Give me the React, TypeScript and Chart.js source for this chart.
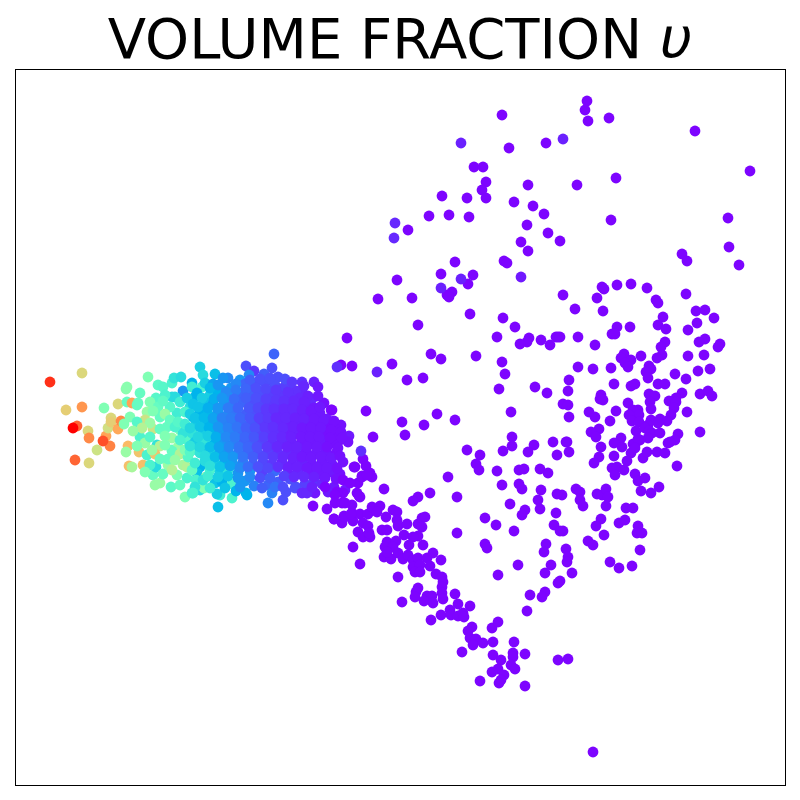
import React, { useEffect, useRef } from "react";
import { Chart, registerables } from "chart.js";

Chart.register(...registerables);

const titleMain = "VOLUME FRACTION ";
const titleSymbol = "υ";

// [x, y], volume fraction close to zero
const upperCloud: number[][] = [
[502,115],[587,101],[585,110],[588,121],[609,118],[695,131],[509,148],[546,143],[474,167],[483,167],[750,171],[616,178],[486,182],[482,190],[528,185],[577,185],[442,196],[467,198],[486,198],[514,202],[533,206],[544,214],[429,216],[449,215],[469,217],[611,220],[728,218],[408,230],[527,225],[548,233],[560,241],[521,242],[528,251],[729,247],[682,254],[687,261],[739,265],[455,262],[504,261],[507,263],[441,274],[473,275],[397,280],[468,284],[452,292],[447,295],[449,297],[378,299],[412,298],[563,295],[575,309],[470,314],[503,318],[515,327],[418,325],[347,338],[497,337],[529,338],[527,342],[520,344],[541,340],[550,345],[556,337],[558,337],[431,354],[441,359],[476,356],[502,362],[505,374],[341,365],[352,366],[392,364],[407,380],[423,378],[499,389],[535,387],[547,393],[511,412],[366,411],[332,410],[402,422],[437,414],[455,420],[424,425],[405,435],[373,437],[512,437],[512,446],[534,445],[528,452],[503,451],[553,442],[557,455],[566,442],[467,450],[480,455],[476,464],[479,470],[497,471],[519,470],[524,469],[540,469],[548,473],[448,477],[502,485],[519,484],[522,489],[541,490],[430,493],[457,497],[510,504],[538,500],[540,509],[525,510],[522,515],[556,513],[485,518],[496,525],[514,531],[554,525],[457,533],[485,544],[487,548],[546,544],[544,552],[518,565],[498,575],[530,595],[527,611],[558,583],[545,592],[542,597],[551,565],[545,573],
];

const rightCloud: number[][] = [
[602,287],[604,289],[597,298],[603,311],[617,285],[631,284],[647,288],[656,300],[658,303],[686,294],[696,311],[705,310],[714,318],[697,323],[688,330],[663,317],[658,325],[666,329],[617,327],[612,334],[615,334],[630,327],[578,337],[560,337],[595,345],[665,342],[661,347],[705,339],[699,342],[720,344],[718,347],[624,354],[621,358],[631,360],[641,356],[662,355],[657,358],[688,356],[704,355],[625,363],[628,367],[578,367],[593,369],[611,368],[649,366],[651,369],[646,372],[648,378],[675,374],[698,371],[710,369],[686,379],[569,380],[614,384],[631,386],[635,384],[658,384],[665,384],[568,391],[601,395],[600,399],[603,400],[649,394],[655,396],[682,393],[700,394],[708,391],[712,396],[676,398],[669,401],[676,402],[628,403],[650,402],[563,404],[568,405],[651,409],[674,408],[638,410],[633,410],[589,412],[595,417],[616,411],[687,412],[569,417],[639,415],[629,415],[671,415],[610,421],[632,421],[639,422],[651,420],[660,419],[667,421],[658,423],[648,425],[599,429],[591,432],[596,437],[636,431],[645,428],[649,431],[652,433],[660,433],[700,432],[678,434],[675,440],[668,443],[670,442],[648,438],[640,440],[621,438],[614,443],[635,445],[567,442],[601,447],[622,447],[569,452],[599,457],[594,463],[614,456],[633,444],[638,439],[631,453],[635,448],[627,461],[643,458],[647,452],[657,452],[665,453],[677,466],[612,468],[617,467],[615,475],[624,470],[635,474],[638,481],[645,478],[641,491],[651,493],[659,487],[576,489],[580,492],[562,495],[580,500],[583,506],[597,494],[602,495],[606,489],[608,497],[606,506],[626,508],[633,508],[601,519],[596,526],[619,523],[625,520],[638,526],[637,533],[642,533],[604,535],[563,531],[588,541],[593,545],[566,549],[640,550],[568,557],[567,562],[610,562],[619,568],[632,566],[572,573],[560,581],[557,494],[560,531],
];

const lowerArm: number[][] = [
[313,506],[327,509],[334,519],[342,523],[344,516],[352,513],[353,521],[360,514],[368,514],[372,507],[380,506],[377,512],[386,517],[393,510],[397,512],[397,520],[398,526],[407,524],[418,524],[422,518],[425,517],[422,527],[363,523],[368,526],[358,532],[363,537],[370,537],[369,533],[382,530],[387,530],[404,535],[418,536],[413,537],[353,547],[360,564],[387,542],[396,541],[385,547],[393,547],[409,545],[423,545],[384,557],[391,559],[387,552],[398,553],[403,559],[408,555],[413,560],[418,558],[433,553],[427,558],[441,560],[413,567],[420,565],[430,566],[415,572],[420,572],[398,577],[436,574],[442,577],[443,582],[442,587],[442,593],[443,599],[455,594],[418,588],[416,592],[415,597],[427,596],[432,596],[424,601],[433,603],[402,602],[431,620],[441,615],[450,610],[451,615],[458,604],[470,606],[458,616],[463,613],[464,617],[472,627],[468,631],[470,638],[476,639],[473,645],[483,643],[462,652],[493,642],[492,628],[498,622],[514,642],[493,655],[501,660],[513,653],[513,657],[525,654],[511,665],[515,669],[498,669],[492,672],[504,675],[501,680],[499,683],[480,681],[525,686],[558,660],[568,659],[593,752],[384,489],[418,497],[413,501],[355,467],[363,459],[366,466],[354,467],[370,473],[372,477],[362,476],[343,480],[358,483],[350,483],[357,493],[360,497],[343,493],[335,503],[352,505],[342,503],[334,519],[345,517],[351,514],[325,487],[337,492],[335,495],[345,503],[359,496],[362,477],[367,475],
];

// [x, y, volume fraction]
const bluerPoints: number[][] = [
[461,143,0.04],[563,139,0.04],[395,223,0.05],[394,238,0.05],[461,279,0.04],[441,288,0.04],[521,277,0.03],[337,367,0.06],[377,372,0.04],[361,451,0.06],
];

const tail: number[][] = [
[50,382,0.94],[82,373,0.68],[66,410,0.7],[82,407,0.8],[77,426,0.87],[73,428,1],[88,431,0.68],[89,438,0.82],[75,460,0.87],[89,463,0.68],[97,450,0.65],[106,436,0.78],[110,446,0.83],[104,408,0.5],[111,418,0.68],[108,428,0.66],[111,422,0.7],[103,441,0.9],[118,429,0.77],[121,421,0.82],[124,424,0.5],[118,404,0.68],[127,387,0.52],[126,389,0.52],[148,377,0.5],[127,402,0.45],[132,403,0.78],[137,405,0.45],[140,393,0.45],[128,446,0.74],[126,452,0.55],[139,452,0.72],[129,466,0.73],[132,467,0.58],[143,465,0.73],[153,475,0.45],[155,485,0.55],[160,483,0.55],[171,487,0.43],[185,497,0.5],[192,493,0.4],[200,490,0.33],[204,488,0.5],
];

const leftBlob: number[][] = [
[158,385,0.43],[163,387,0.42],[172,383,0.4],[174,378,0.35],[181,377,0.33],[200,367,0.3],[203,375,0.33],[183,391,0.2],[192,383,0.25],[192,387,0.38],[202,387,0.4],[195,397,0.25],[172,397,0.33],[175,397,0.33],[156,398,0.42],[150,402,0.5],[138,403,0.45],[158,407,0.45],[147,412,0.55],[145,420,0.65],[130,417,0.5],[137,422,0.42],[160,417,0.45],[153,429,0.65],[160,429,0.45],[140,437,0.4],[145,443,0.55],[157,445,0.35],[160,446,0.6],[172,450,0.45],[178,447,0.55],[187,440,0.42],[180,430,0.5],[167,427,0.45],[177,413,0.38],[193,417,0.25],[190,407,0.33],[202,410,0.33],[207,425,0.2],[202,436,0.42],[192,445,0.32],[183,433,0.35],[172,438,0.55],[147,455,0.4],[155,454,0.72],[156,467,0.33],[168,465,0.55],[183,465,0.58],[187,467,0.6],[177,475,0.5],[187,478,0.4],[168,459,0.45],[172,451,0.45],[180,454,0.6],[188,457,0.42],[200,467,0.25],[197,473,0.27],[206,477,0.55],[196,480,0.4],[207,457,0.35],[197,450,0.3],[208,447,0.2],
[165,395,0.4],[180,402,0.38],[170,407,0.42],[153,411,0.5],[165,414,0.55],[185,412,0.4],[150,423,0.55],[170,420,0.45],[142,428,0.6],[133,431,0.55],[137,446,0.5],[150,437,0.42],[165,436,0.5],[175,427,0.4],[180,440,0.4],[165,445,0.5],[152,450,0.55],[160,459,0.45],[175,460,0.55],[163,474,0.45],[172,470,0.6],[192,470,0.45],[180,485,0.45],[195,487,0.35],[150,465,0.4],[145,472,0.5],[187,398,0.3],[163,401,0.44],[185,450,0.5],[178,422,0.42],
];

const midBlob: number[][] = [
[215,374,0.27],[228,378,0.18],[223,378,0.2],[246,366,0.1],[254,371,0.07],[249,375,0.18],[240,380,0.2],[272,368,0.1],[274,354,0.13],[264,374,0.12],[278,377,0.1],[288,385,0.1],[302,382,0.06],[314,382,0.04],[318,387,0.03],[302,390,0.05],[312,399,0.05],[324,403,0.02],[331,410,0.02],[316,418,0.03],[327,419,0.03],[341,425,0.02],[349,436,0.03],[348,442,0.02],[343,462,0.02],[338,442,0.02],[323,435,0.03],
[205,383,0.3],[213,384,0.22],[222,390,0.22],[231,388,0.2],[245,384,0.13],[255,385,0.1],[265,383,0.1],[275,385,0.1],[283,388,0.08],[296,391,0.06],
[197,393,0.25],[210,395,0.3],[218,393,0.25],[228,396,0.2],[240,394,0.13],[250,393,0.12],[260,392,0.1],[270,394,0.08],[280,396,0.07],[290,397,0.06],[300,398,0.05],[308,396,0.04],
[193,404,0.28],[204,402,0.28],[213,404,0.22],[224,403,0.2],[233,405,0.16],[243,402,0.13],[253,404,0.1],[262,402,0.09],[270,405,0.07],[278,403,0.06],[288,406,0.05],[297,404,0.05],[306,406,0.04],[314,408,0.03],
[190,414,0.3],[200,412,0.25],[208,414,0.26],[218,412,0.2],[228,414,0.18],[236,412,0.15],[246,414,0.12],[254,412,0.1],[264,414,0.07],[272,412,0.06],[282,414,0.05],[290,413,0.05],[300,415,0.04],[310,414,0.03],[320,413,0.03],
[185,424,0.38],[196,422,0.3],[205,424,0.25],[214,422,0.22],[224,424,0.17],[232,422,0.16],[242,424,0.13],[252,422,0.11],[262,424,0.07],[270,422,0.06],[280,424,0.05],[290,422,0.04],[298,424,0.04],[306,423,0.03],[316,425,0.03],[328,426,0.02],[335,428,0.02],
[192,433,0.35],[203,431,0.3],[212,433,0.25],[220,431,0.2],[230,433,0.17],[240,431,0.14],[248,433,0.12],[258,431,0.09],[268,433,0.07],[276,431,0.06],[286,433,0.04],[296,431,0.04],[306,433,0.03],[316,431,0.03],[326,433,0.02],[334,435,0.02],
[195,442,0.3],[205,440,0.35],[215,443,0.25],[224,441,0.2],[234,443,0.17],[244,441,0.13],[252,443,0.12],[262,441,0.09],[272,443,0.06],[282,441,0.05],[292,443,0.04],[302,441,0.03],[312,443,0.03],[322,441,0.03],[330,444,0.02],
[190,452,0.42],[200,453,0.35],[210,451,0.3],[220,453,0.22],[228,451,0.2],[238,453,0.16],[248,451,0.13],[258,453,0.1],[268,451,0.08],[278,453,0.06],[288,451,0.05],[296,453,0.04],[306,451,0.03],[316,453,0.03],[326,451,0.03],[336,453,0.02],
[195,463,0.38],[205,461,0.33],[215,463,0.3],[225,461,0.25],[233,464,0.2],[243,462,0.17],[253,464,0.12],[263,462,0.09],[272,464,0.07],[282,462,0.05],[292,464,0.04],[302,462,0.04],[312,464,0.03],[322,462,0.03],[332,464,0.03],
[210,470,0.4],[220,472,0.3],[228,470,0.35],[238,473,0.2],[250,471,0.2],[262,473,0.08],[275,471,0.14],[288,473,0.04],[298,471,0.05],[310,473,0.03],[320,474,0.03],[330,472,0.03],[340,474,0.02],
[203,480,0.35],[215,483,0.28],[222,482,0.25],[232,484,0.4],[245,481,0.2],[246,493,0.25],[268,485,0.13],[278,482,0.12],[290,479,0.1],[296,487,0.1],[305,484,0.08],[314,481,0.07],[322,484,0.05],[334,487,0.03],[345,490,0.03],
[218,507,0.27],[268,503,0.18],[283,500,0.1],[272,493,0.17],[232,498,0.4],[220,495,0.38],[217,494,0.3],[247,495,0.25],[236,491,0.25],[193,493,0.4],[286,492,0.1],[295,488,0.1],[302,493,0.05],[315,493,0.03],[307,493,0.05],
];

// Points lying between the others in the crowded part of the cloud
const denseCore: number[][] = [
[210,388,0.26],[218,385,0.2],[236,384,0.18],[250,380,0.12],[260,379,0.1],[270,378,0.1],[285,379,0.1],[292,382,0.07],
[226,392,0.18],[236,390,0.16],[246,389,0.13],[256,388,0.1],[266,389,0.09],[276,390,0.07],[288,392,0.06],[304,386,0.05],
[202,398,0.3],[214,399,0.24],[222,398,0.2],[234,399,0.14],[246,398,0.12],[256,398,0.1],[266,399,0.08],[276,400,0.07],[284,401,0.06],[294,401,0.05],[304,402,0.04],[318,396,0.03],
[198,407,0.28],[208,408,0.24],[218,408,0.2],[228,408,0.16],[238,408,0.13],[249,408,0.11],[258,408,0.09],[266,409,0.07],[274,409,0.06],[284,409,0.05],[293,409,0.05],[302,410,0.04],[311,411,0.03],[320,407,0.03],
[195,418,0.28],[204,418,0.26],[213,418,0.22],[222,418,0.17],[231,418,0.16],[240,418,0.13],[250,418,0.11],[259,418,0.08],[268,418,0.07],[276,418,0.05],[286,418,0.05],[295,418,0.04],[304,419,0.04],[314,419,0.03],[324,420,0.03],[334,421,0.02],
[190,428,0.32],[200,427,0.28],[209,428,0.25],[218,427,0.2],[228,428,0.17],[237,427,0.15],[246,428,0.12],[255,428,0.1],[265,428,0.07],[273,427,0.06],[283,428,0.05],[293,427,0.04],[302,428,0.03],[311,428,0.03],[321,428,0.03],[331,430,0.02],[341,432,0.02],
[198,437,0.32],[208,436,0.3],[216,437,0.24],[226,437,0.18],[235,437,0.16],[245,437,0.13],[254,437,0.11],[264,437,0.08],[273,437,0.06],[282,437,0.05],[291,437,0.04],[301,437,0.03],[310,437,0.03],[319,437,0.03],[330,438,0.02],[342,438,0.02],
[190,446,0.35],[200,447,0.32],[210,447,0.27],[219,447,0.22],[229,447,0.18],[239,447,0.15],[248,447,0.13],[257,447,0.1],[267,447,0.07],[277,447,0.05],[287,447,0.04],[297,447,0.04],[307,447,0.03],[317,447,0.03],[327,447,0.02],[338,448,0.02],
[205,456,0.33],[215,457,0.27],[224,457,0.22],[233,457,0.2],[243,457,0.15],[253,457,0.12],[263,457,0.09],[273,457,0.07],[283,457,0.05],[293,458,0.04],[302,457,0.03],[311,458,0.03],[321,457,0.03],[331,458,0.03],[340,456,0.02],
[210,466,0.34],[220,467,0.28],[230,466,0.22],[240,468,0.18],[248,467,0.14],[258,467,0.1],[268,468,0.09],[278,467,0.06],[288,468,0.04],[297,467,0.04],[307,468,0.03],[317,468,0.03],[327,468,0.03],[337,468,0.02],
[208,476,0.38],[218,477,0.3],[228,476,0.28],[238,478,0.2],[250,477,0.18],[260,478,0.1],[270,478,0.12],[284,476,0.08],[294,477,0.05],[304,477,0.05],[314,477,0.04],[325,478,0.03],[336,479,0.02],
[210,488,0.38],[225,488,0.28],[240,487,0.2],[254,486,0.17],[262,488,0.12],[275,487,0.15],[283,487,0.1],[312,487,0.04],[328,492,0.03],
];

const rainbow = (v: number) => {
  const r = Math.min(1, Math.abs(2 * v - 0.5));
  const g = Math.sin(Math.PI * v);
  const b = Math.cos((Math.PI * v) / 2);
  return `rgb(${Math.round(r * 255)},${Math.round(g * 255)},${Math.round(b * 255)})`;
};

const titlePlugin = {
  id: "mixedTitle",
  afterDraw(chart: Chart) {
    const { ctx, width } = chart;
    ctx.save();
    ctx.fillStyle = "#000";
    ctx.textBaseline = "alphabetic";
    ctx.font = '56px "DejaVu Sans"';
    const a = ctx.measureText(titleMain).width;
    ctx.font = 'oblique 56px "DejaVu Sans"';
    const b = ctx.measureText(titleSymbol).width;
    const start = (width - a - b) / 2;
    ctx.font = '56px "DejaVu Sans"';
    ctx.fillText(titleMain, start, 58);
    ctx.font = 'oblique 56px "DejaVu Sans"';
    ctx.fillText(titleSymbol, start + a, 58);
    ctx.restore();
  },
};

const framePlugin = {
  id: "frame",
  afterDatasetsDraw(chart: Chart) {
    const { ctx, chartArea: c } = chart;
    ctx.save();
    ctx.strokeStyle = "#000";
    ctx.lineWidth = 1;
    ctx.strokeRect(c.left, c.top, c.right - c.left, c.bottom - c.top);
    ctx.restore();
  },
};

export default function App() {
  const ref = useRef<HTMLCanvasElement>(null);
  useEffect(() => {
    const zero = [...upperCloud, ...rightCloud, ...lowerArm].map((p) => [p[0], p[1], 0.005]);
    const all = [...tail, ...leftBlob, ...midBlob, ...denseCore, ...zero, ...bluerPoints];
    const chart = new Chart(ref.current!, {
      type: "scatter",
      data: {
        datasets: [
          {
            label: "Volume fraction",
            data: all.map((p) => ({ x: p[0], y: p[1] })),
            backgroundColor: all.map((p) => rainbow(p[2])),
            borderWidth: 0,
            pointRadius: 5.4,
          },
        ],
      },
      options: {
        animation: false,
        responsive: false,
        layout: { padding: { left: 15.5, right: 14.5, top: 69.5, bottom: 14.5 } },
        plugins: { legend: { display: false }, tooltip: { enabled: false } },
        scales: {
          x: { type: "linear", min: 15.5, max: 785.5, display: false },
          y: { type: "linear", min: 69.5, max: 785.5, reverse: true, display: false },
        },
      },
      plugins: [titlePlugin, framePlugin],
    });
    return () => chart.destroy();
  }, []);
  return (
    <canvas
      ref={ref}
      width={800}
      height={800}
      style={{ position: "absolute", left: 0, top: 0, width: 800, height: 800, background: "#fff" }}
    />
  );
}
